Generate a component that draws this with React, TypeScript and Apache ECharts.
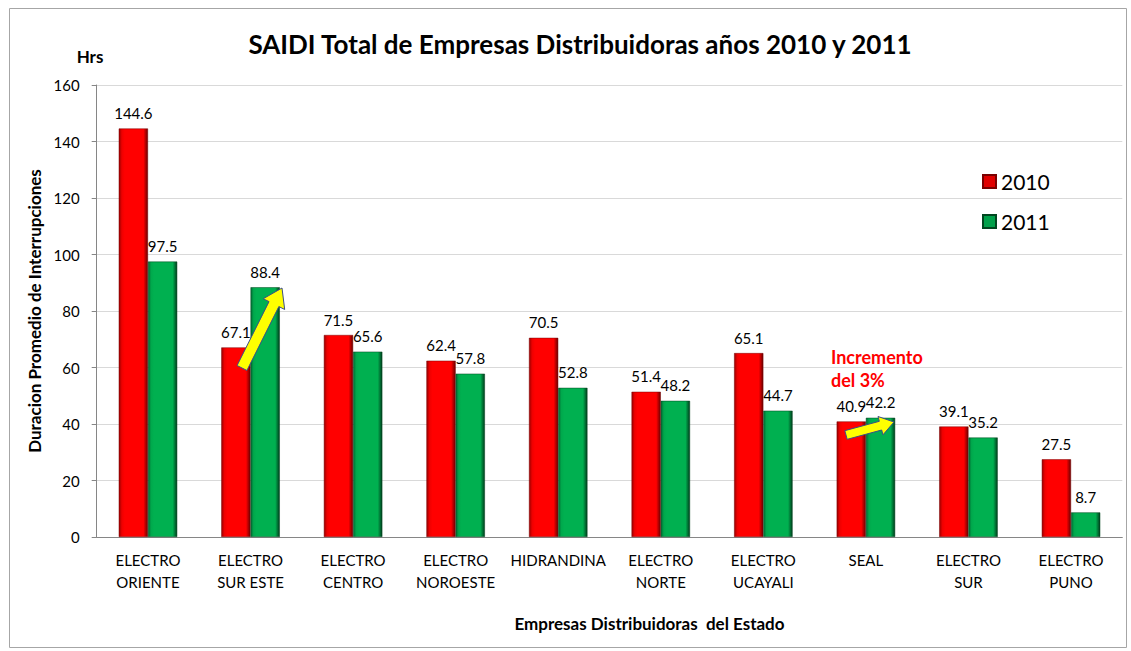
import React, { useEffect, useRef } from "react";
import * as echarts from "echarts";

const categories = [
  "ELECTRO\nORIENTE",
  "ELECTRO\nSUR ESTE",
  "ELECTRO\nCENTRO",
  "ELECTRO\nNOROESTE",
  "HIDRANDINA",
  "ELECTRO\nNORTE",
  "ELECTRO\nUCAYALI",
  "SEAL",
  "ELECTRO\nSUR",
  "ELECTRO\nPUNO",
];
const values2010 = [144.6, 67.1, 71.5, 62.4, 70.5, 51.4, 65.1, 40.9, 39.1, 27.5];
const values2011 = [97.5, 88.4, 65.6, 57.8, 52.8, 48.2, 44.7, 42.2, 35.2, 8.7];
const seriesNames = ["2010", "2011"];
const yTicks = { min: 0, max: 160, interval: 20 };

const FONT = "Lato, 'Open Sans', sans-serif";

function arrowPoints(x1: number, y1: number, x2: number, y2: number, sw: number, hw: number, hl: number) {
  const dx = x2 - x1, dy = y2 - y1;
  const L = Math.sqrt(dx * dx + dy * dy);
  const ux = dx / L, uy = dy / L;
  const nx = -uy, ny = ux;
  const bx = x2 - ux * hl, by = y2 - uy * hl;
  return [
    [x1 + nx * sw / 2, y1 + ny * sw / 2],
    [bx + nx * sw / 2, by + ny * sw / 2],
    [bx + nx * hw / 2, by + ny * hw / 2],
    [x2, y2],
    [bx - nx * hw / 2, by - ny * hw / 2],
    [bx - nx * sw / 2, by - ny * sw / 2],
    [x1 - nx * sw / 2, y1 - ny * sw / 2],
  ];
}

const redGrad = new echarts.graphic.LinearGradient(0, 0, 1, 0, [
  { offset: 0, color: "#9a0000" },
  { offset: 0.1, color: "#ee0000" },
  { offset: 0.2, color: "#ff0000" },
  { offset: 0.85, color: "#ff0000" },
  { offset: 1, color: "#6a0000" },
]);
const greenGrad = new echarts.graphic.LinearGradient(0, 0, 1, 0, [
  { offset: 0, color: "#006b33" },
  { offset: 0.1, color: "#00a84c" },
  { offset: 0.2, color: "#00b050" },
  { offset: 0.85, color: "#00b050" },
  { offset: 1, color: "#003d1c" },
]);

export default function App() {
  const ref = useRef<HTMLDivElement>(null);
  useEffect(() => {
    if (!ref.current) return;
    const chart = echarts.init(ref.current, undefined, { renderer: "svg" });
    const labelStyle = { show: true, position: "top" as const, distance: 8, fontSize: 15, color: "#000", fontFamily: FONT };
    chart.setOption({
      animation: false,
      backgroundColor: "#fff",
      textStyle: { fontFamily: FONT },
      title: {
        text: "SAIDI Total de Empresas Distribuidoras años 2010 y 2011",
        left: 575,
        top: 26,
        textAlign: "center",
        textStyle: { fontSize: 26, fontWeight: "bold", color: "#000", fontFamily: FONT },
      },
      legend: {
        orient: "vertical",
        left: 977,
        top: 166,
        itemGap: 19,
        itemWidth: 13,
        itemHeight: 13,
        icon: "rect",
        textStyle: { fontSize: 21, color: "#000", fontFamily: FONT },
        data: [
          { name: seriesNames[0], itemStyle: { color: "#e00000" } },
          { name: seriesNames[1], itemStyle: { color: "#00a04a" } },
        ],
      },
      grid: { left: 96.7, right: 8.7, top: 85, bottom: 114, containLabel: false },
      xAxis: {
        type: "category",
        data: categories,
        name: "Empresas Distribuidoras  del Estado",
        nameLocation: "middle",
        nameGap: 78,
        nameTextStyle: { fontSize: 17, fontWeight: "bold", color: "#000", fontFamily: FONT, padding: [0, 0, 0, 80] },
        axisLine: { lineStyle: { color: "#868686", width: 1 } },
        axisTick: { show: false },
        axisLabel: { fontSize: 15, color: "#000", lineHeight: 22, margin: 12, interval: 0, fontFamily: FONT },
      },
      yAxis: {
        type: "value",
        min: yTicks.min,
        max: yTicks.max,
        interval: yTicks.interval,
        name: "Duracion Promedio de Interrupciones",
        nameLocation: "middle",
        nameRotate: 90,
        nameGap: 50,
        nameTextStyle: { fontSize: 17, fontWeight: "bold", color: "#000", fontFamily: FONT },
        axisLine: { show: true, lineStyle: { color: "#868686", width: 1 } },
        axisTick: { show: true, length: 5, lineStyle: { color: "#868686" } },
        axisLabel: { fontSize: 15, color: "#000", margin: 17, fontFamily: FONT },
        splitLine: { lineStyle: { color: "#d9d9d9", width: 1 } },
      },
      series: [
        {
          name: seriesNames[0],
          type: "bar",
          data: values2010,
          barGap: "0%",
          barCategoryGap: "43%",
          itemStyle: { color: redGrad, borderColor: "#7a0000", borderWidth: 0.5 },
          label: labelStyle,
        },
        {
          name: seriesNames[1],
          type: "bar",
          data: values2011,
          itemStyle: { color: greenGrad, borderColor: "#00461f", borderWidth: 0.5 },
          label: labelStyle,
        },
      ],
      graphic: [
        {
          type: "rect",
          shape: { x: 9.5, y: 8.5, width: 1117, height: 639 },
          style: { fill: "none", stroke: "#a6a6a6", lineWidth: 1 },
          z: 100,
        },
        {
          type: "text",
          x: 90,
          y: 56,
          style: { text: "Hrs", fontSize: 17, fontWeight: "bold", fill: "#000", align: "center", verticalAlign: "middle", fontFamily: FONT },
          z: 100,
        },
        {
          type: "text",
          x: 831,
          y: 345,
          style: { text: "Incremento\ndel 3%", fontSize: 18, lineHeight: 23, fontWeight: "bold", fill: "#ff0000", align: "left", verticalAlign: "top", fontFamily: FONT },
          z: 100,
        },
        {
          type: "polygon",
          shape: { points: arrowPoints(242, 368, 282, 288, 11, 24, 18) },
          style: { fill: "#ffff00", stroke: "#3b4e87", lineWidth: 1 },
          z: 100,
        },
        {
          type: "polygon",
          shape: { points: arrowPoints(846, 435, 894, 422, 9, 19, 14) },
          style: { fill: "#ffff00", stroke: "#3b4e87", lineWidth: 1 },
          z: 100,
        },
      ],
    });
    return () => chart.dispose();
  }, []);
  return <div ref={ref} style={{ position: "absolute", left: 0, top: 0, width: 1131, height: 651 }} />;
}
